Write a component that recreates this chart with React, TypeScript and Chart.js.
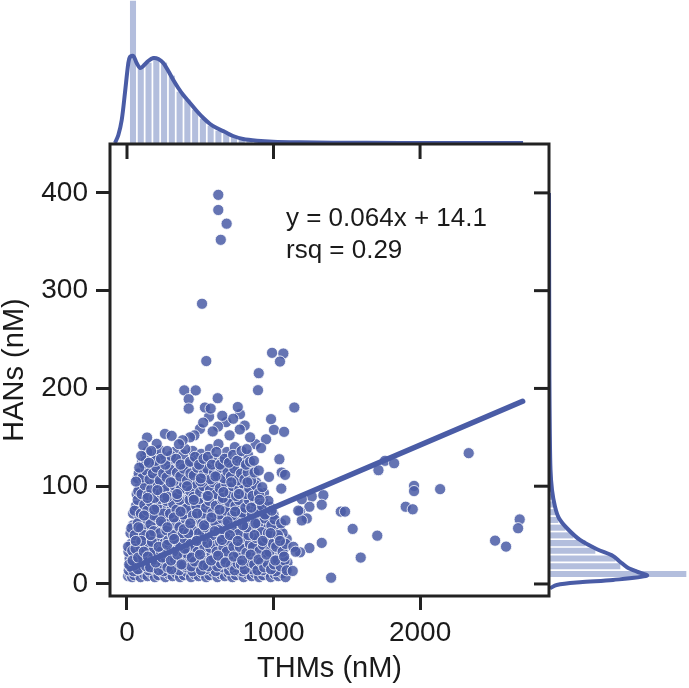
import React, { useEffect, useRef } from "react";
import { Chart, registerables } from "chart.js";

Chart.register(...registerables);

const thmsTicks = [0, 1000, 2000];
const hansTicks = [0, 100, 200, 300, 400];
const fitLine = [
  { x: 20, y: 15.4 },
  { x: 2700, y: 186.9 },
];

const outliers: number[][] = [
  [623, 398], [623, 382.5], [680, 368.5], [640, 352], [512, 286.6], [541, 228], [990, 236.4], [1067, 235.7],
  [1044, 227.5], [899, 215.6], [894, 198.2], [391, 198], [469, 198], [421, 189], [619, 190], [421, 179.4],
  [532, 180.5], [571, 179.4], [756, 181], [1142, 180.5], [2332, 133.8], [1761, 126], [1823, 123.5], [1716, 116.4],
  [1959, 100.3], [1959, 95], [2137, 97], [1902, 79], [1950, 76.4], [2680, 66], [2669, 57], [2512, 44.3],
  [2587, 38.2], [1459, 74], [1488, 74], [1540, 56.3], [1708, 49.4], [1329, 42], [1245, 36.8], [1595, 27],
  [1393, 6.4], [1340, 90.8], [1261, 89.4], [1329, 81], [1245, 79], [1193, 86.7], [1181, 74], [1227, 67],
  [1193, 65], [1181, 32.4], [1169, 75], [1081, 65], [1135, 38], [1151, 33], [1131, 13.3],
];

const cloudEdge: number[][] = [
  [771, 173.7], [983, 168.6], [1003, 157.6], [1072, 155.6], [803, 162], [676, 165.5], [498, 158.6], [621, 161],
  [585, 156], [259, 153.5], [305, 151.5], [137, 149.8], [111, 141.6], [203, 143.3], [61, 104.7], [1040, 127.6],
  [1056, 114], [1079, 111.6], [969, 109.5], [899, 116], [1053, 97.5], [949, 148], [878, 143], [915, 139], [817, 137.9],
  [725, 169], [770, 158], [560, 171], [520, 165], [650, 172], [700, 152], [460, 152], [430, 150], [380, 147],
  [840, 150], [355, 143], [165, 136], [128, 126], [97, 131], [84, 119], [150, 124], [232, 128], [274, 136],
];

const cloudFloor: number[][] = [
  [8, 8], [22, 10], [35, 7], [50, 9], [71, 12], [93, 7], [118, 10], [140, 8], [166, 11], [190, 7], [214, 9], [238, 12],
  [262, 7], [287, 10], [311, 8], [336, 11], [362, 7], [388, 9], [410, 12], [437, 7], [461, 10], [489, 8], [512, 11],
  [540, 7], [563, 9], [589, 12], [617, 7], [640, 10], [668, 8], [693, 11], [719, 7], [744, 9], [772, 12], [796, 7],
  [823, 10], [851, 8], [874, 11], [902, 7], [929, 9], [957, 12], [981, 7], [1008, 10], [1033, 8], [1059, 11], [1082, 7],
];

const cloudLow: number[][] = [
  [12, 14], [30, 17], [45, 13], [66, 21], [82, 15], [101, 19], [124, 25], [147, 14], [163, 22], [182, 16], [205, 27],
  [226, 18], [249, 13], [268, 24], [291, 16], [313, 28], [334, 20], [357, 14], [379, 26], [402, 17], [425, 22], [447, 13],
  [470, 29], [493, 18], [516, 24], [538, 15], [561, 27], [583, 20], [606, 13], [629, 25], [651, 17], [674, 30], [697, 14],
  [720, 23], [742, 17], [765, 28], [788, 13], [810, 21], [833, 26], [856, 15], [879, 29], [901, 19], [924, 14], [947, 25],
  [969, 17], [992, 28], [1015, 13], [1037, 21], [1060, 27], [1083, 16], [1095, 22], [18, 26], [55, 28], [92, 30],
];

const cloudMidLow: number[][] = [
  [10, 33], [28, 41], [48, 31], [70, 46], [88, 36], [112, 42], [135, 33], [156, 49], [178, 38], [199, 31], [222, 44],
  [245, 36], [267, 48], [288, 33], [310, 42], [333, 37], [354, 49], [377, 32], [399, 43], [421, 36], [444, 47], [466, 33],
  [489, 40], [511, 49], [534, 35], [556, 44], [578, 31], [601, 46], [623, 38], [646, 33], [668, 48], [690, 41], [713, 35],
  [735, 46], [758, 31], [781, 42], [803, 37], [826, 49], [848, 34], [871, 44], [893, 38], [916, 48], [938, 32], [961, 43],
  [984, 37], [1006, 47], [1029, 33], [1051, 42], [1074, 37], [1090, 46],
];

const cloudMid: number[][] = [
  [24, 52], [41, 60], [62, 55], [84, 66], [105, 51], [127, 61], [149, 56], [171, 67], [192, 52], [214, 62], [236, 57],
  [258, 65], [280, 51], [302, 60], [324, 55], [347, 67], [368, 53], [391, 63], [412, 57], [435, 66], [457, 51], [480, 61],
  [502, 56], [525, 68], [547, 53], [569, 62], [592, 57], [614, 66], [636, 52], [659, 60], [681, 55], [704, 67], [726, 51],
  [749, 62], [771, 57], [794, 65], [816, 53], [839, 60], [861, 56], [884, 68], [906, 51], [929, 62], [951, 57], [974, 65],
  [996, 53], [1019, 60], [1041, 55], [1062, 52],
];

const cloudMidHigh: number[][] = [
  [42, 72], [62, 80], [84, 70], [105, 77], [128, 84], [150, 71], [172, 79], [194, 69], [216, 83], [238, 74], [260, 80],
  [282, 70], [305, 77], [327, 85], [349, 72], [371, 79], [394, 69], [416, 83], [438, 75], [461, 81], [483, 70], [505, 78],
  [528, 84], [550, 72], [572, 79], [595, 69], [617, 83], [639, 74], [662, 81], [684, 71], [707, 77], [729, 85], [751, 72],
  [774, 79], [796, 69], [819, 83], [841, 74], [863, 80], [886, 71], [908, 78], [931, 84], [953, 72], [976, 79], [1000, 71],
];

const cloudUpper: number[][] = [
  [66, 92], [88, 99], [110, 88], [132, 96], [154, 101], [176, 90], [198, 97], [220, 87], [243, 100], [265, 92], [287, 98],
  [309, 88], [332, 95], [354, 102], [376, 90], [399, 97], [421, 87], [443, 100], [466, 92], [488, 98], [510, 88], [533, 95],
  [555, 102], [577, 90], [600, 97], [622, 87], [644, 100], [667, 92], [689, 98], [711, 88], [734, 95], [756, 102], [778, 90],
  [801, 97], [823, 87], [845, 100], [868, 92], [890, 98], [912, 88], [935, 93],
];

const cloudTop: number[][] = [
  [72, 108], [96, 115], [118, 106], [142, 112], [166, 118], [188, 105], [212, 113], [236, 108], [258, 117], [283, 104],
  [306, 112], [330, 118], [352, 106], [375, 114], [398, 109], [421, 118], [444, 104], [467, 113], [490, 107], [514, 117],
  [536, 105], [559, 112], [583, 118], [606, 108], [629, 115], [651, 104], [675, 112], [698, 118], [721, 107], [744, 114],
  [767, 105], [790, 112], [812, 118], [836, 107], [858, 111], [881, 104],
  [102, 124], [126, 132], [150, 127], [182, 134], [210, 122], [246, 130], [284, 124], [322, 135], [348, 126], [384, 132],
  [412, 122], [448, 136], [478, 127], [506, 133], [538, 123], [566, 138], [596, 128], [624, 143], [648, 125], [682, 135],
  [710, 122], [736, 140], [768, 128], [798, 124], [826, 132], [852, 120],
];

const cloudExtra: number[][] = [
  [15, 20], [38, 24], [58, 36], [76, 27], [98, 44], [115, 33], [142, 28], [170, 43], [196, 22], [216, 38], [240, 27],
  [274, 40], [300, 24], [322, 46], [344, 30], [372, 20], [394, 36], [418, 52], [442, 27], [476, 44], [498, 30], [522, 19],
  [548, 42], [574, 24], [598, 54], [622, 29], [648, 45], [672, 22], [702, 50], [728, 28], [756, 44], [786, 24], [816, 58],
  [844, 30], [870, 50], [898, 25], [926, 44], [952, 30], [980, 52], [1012, 24], [1044, 44], [1072, 28], [78, 58], [116, 70],
  [140, 88], [162, 50], [186, 76], [208, 96], [232, 64], [256, 88], [276, 58], [298, 104], [320, 68], [342, 92], [366, 74],
  [388, 56], [410, 100], [432, 62], [456, 86], [478, 72], [504, 108], [526, 60], [552, 90], [576, 68], [604, 110], [632, 76],
  [658, 94], [686, 64], [712, 104], [738, 74], [764, 92], [792, 60], [822, 104], [848, 78], [876, 62], [905, 86], [60, 44],
];

const cloudFillLow: number[][] = [
  [20, 18], [47, 19], [74, 15], [103, 26], [131, 18], [158, 17], [187, 25], [217, 14], [243, 21], [276, 17], [303, 15],
  [328, 25], [352, 22], [385, 19], [414, 27], [439, 18], [462, 23], [505, 14], [532, 21], [553, 18], [594, 26], [616, 18],
  [641, 21], [665, 25], [709, 19], [734, 14], [755, 21], [778, 20], [803, 15], [845, 22], [868, 20], [890, 14], [915, 22],
  [936, 17], [960, 21], [983, 15], [1004, 20], [1026, 25], [1049, 18], [1075, 24], [1090, 14],
  [8, 38], [36, 34], [62, 42], [94, 37], [124, 47], [146, 39], [172, 33], [208, 46], [232, 33], [256, 42], [282, 45],
  [316, 33], [338, 44], [364, 38], [386, 47], [410, 31], [434, 41], [458, 38], [482, 33], [505, 43], [528, 38], [568, 37],
  [590, 41], [612, 33], [636, 43], [658, 37], [680, 33], [702, 44], [726, 38], [770, 38], [792, 47], [815, 32], [838, 41],
  [860, 38], [882, 47], [905, 34], [928, 40], [950, 47], [972, 33], [995, 41], [1018, 38], [1040, 47], [1062, 33], [1083, 41],
];

const cloudFillMid: number[][] = [
  [30, 57], [52, 50], [73, 62], [96, 57], [116, 50], [138, 66], [160, 61], [182, 54], [204, 68], [225, 52], [248, 62],
  [269, 55], [291, 65], [313, 50], [336, 62], [358, 58], [380, 52], [402, 66], [424, 60], [446, 55], [468, 67], [491, 52],
  [514, 62], [536, 58], [558, 66], [581, 50], [603, 63], [625, 55], [648, 67], [670, 51], [692, 62], [715, 57], [738, 66],
  [760, 51], [782, 62], [805, 59], [828, 50], [850, 66], [873, 58], [895, 62], [918, 53], [940, 67], [962, 52], [985, 60],
  [1007, 66], [1030, 50], [1052, 62],
  [52, 75], [73, 86], [95, 72], [118, 81], [138, 75], [161, 84], [183, 70], [205, 78], [227, 87], [249, 72], [271, 85],
  [294, 72], [316, 82], [338, 76], [360, 86], [383, 71], [405, 77], [427, 86], [450, 70], [472, 80], [494, 87], [516, 72],
  [539, 78], [561, 85], [584, 73], [606, 80], [628, 71], [651, 86], [673, 75], [696, 84], [718, 70], [740, 80], [763, 86],
  [785, 73], [807, 78], [830, 86], [852, 71], [874, 84], [897, 75], [920, 80], [942, 71], [965, 85], [988, 75],
];

const cloudFillHigh: number[][] = [
  [77, 95], [99, 92], [121, 101], [143, 91], [165, 97], [187, 88], [209, 103], [231, 93], [254, 97], [276, 89], [320, 101],
  [343, 89], [365, 97], [388, 103], [432, 95], [454, 89], [477, 102], [499, 94], [521, 100], [544, 90], [566, 96], [588, 104],
  [611, 92], [633, 98], [655, 88], [678, 102], [700, 93], [722, 100], [745, 90], [767, 97], [790, 103], [812, 92], [834, 98],
  [857, 90], [879, 101], [901, 93], [923, 99],
  [80, 113], [107, 109], [130, 116], [154, 107], [177, 113], [200, 119], [224, 106], [247, 113], [270, 109], [294, 117],
  [318, 105], [341, 114], [364, 110], [387, 118], [410, 106], [433, 113], [456, 111], [479, 119], [502, 105], [525, 113],
  [548, 118], [571, 107], [594, 114], [617, 111], [640, 119], [663, 108], [686, 115], [709, 110], [732, 118], [755, 106],
  [778, 113], [801, 107], [824, 114], [847, 106], [870, 114],
  [115, 123], [138, 135], [194, 126], [222, 137], [262, 122], [300, 131], [335, 128], [366, 122], [398, 138], [430, 125],
  [464, 130], [492, 122], [522, 128], [552, 130], [580, 122], [610, 135], [636, 122], [666, 128], [696, 124], [724, 132],
  [752, 126], [782, 136], [812, 122], [840, 125], [866, 126],
];

const histCenters = [
  41, 94, 147, 200, 253, 306, 359, 412, 465, 518, 571, 624, 677, 730, 783, 836, 889, 942, 995, 1048, 1101,
];
const histCounts = [142, 75, 80, 84, 80, 67, 51, 43, 33, 24, 17, 12, 9, 6.5, 4.5, 3, 2.2, 1.6, 1.2, 0.9, 0.6];

const kdeThms = [
  -82, -59, -36, -14, 9, 20, 43, 66, 89, 111, 145, 180, 214, 248, 282, 316, 350, 384, 430, 476, 521, 567, 612, 669, 724,
  792, 887, 997, 1181, 1406, 1864, 2703,
];
const kdeThmsDensity = [
  0, 8, 23, 50, 80, 86, 87, 80, 75, 77, 82, 85, 84, 80, 72, 63, 55, 48, 40, 32, 25, 19, 15, 11, 7, 4, 2.3, 1.3, 0.7, 0.3,
  0.1, 0,
];

const histHansCenters = [10.2, 18.1, 26, 33.9, 41.8, 49.7, 57.6, 65.5, 73.4, 81.3, 89.2, 97.1, 105];
const histHansCounts = [137, 71, 66, 46, 36, 24, 16, 9, 7, 6, 3, 2, 1];

const kdeHans = [
  -4.4, -1, 1.7, 4.1, 8.5, 12.6, 17.1, 22.8, 28.7, 35.5, 45, 57, 67.2, 79.1, 96.2, 116.7, 157, 209, 290, 400,
];
const kdeHansDensity = [1, 7.7, 31, 64, 98, 88, 78, 71, 64, 48, 31, 18, 10, 6, 3, 1.5, 0.8, 0.4, 0.2, 0];

const annotationLines = ["y = 0.064x + 14.1", "rsq = 0.29"];

const FONT = "'Liberation Sans', Arial, sans-serif";
const INK = "#222222";
const TEXT = "#1a1a1a";
const BLUE = "#4a5ca6";
const PALE = "#b3bedd";

const toPoints = (rows: number[][]) => rows.map(([x, y]) => ({ x, y }));

export default function App() {
  const mainRef = useRef<HTMLCanvasElement>(null);
  const topRef = useRef<HTMLCanvasElement>(null);
  const rightRef = useRef<HTMLCanvasElement>(null);

  useEffect(() => {
    const frame = {
      id: "frame",
      afterDatasetsDraw(chart: any) {
        const { ctx, chartArea: a, scales } = chart;
        ctx.save();
        ctx.strokeStyle = INK;
        ctx.lineWidth = 3;
        ctx.strokeRect(a.left, a.top, a.right - a.left, a.bottom - a.top);
        thmsTicks.forEach((v) => {
          const p = scales.x.getPixelForValue(v);
          ctx.beginPath();
          ctx.moveTo(p, a.top);
          ctx.lineTo(p, a.top + 15);
          ctx.stroke();
        });
        hansTicks.forEach((v) => {
          const p = scales.y.getPixelForValue(v);
          ctx.beginPath();
          ctx.moveTo(a.right, p);
          ctx.lineTo(a.right - 15, p);
          ctx.stroke();
        });
        ctx.fillStyle = TEXT;
        ctx.font = `26px ${FONT}`;
        ctx.textBaseline = "alphabetic";
        ctx.textAlign = "left";
        const tx = scales.x.getPixelForValue(1085);
        annotationLines.forEach((t, i) => {
          ctx.fillText(t, tx, scales.y.getPixelForValue(i === 0 ? 366 : 333.5));
        });
        ctx.restore();
      },
    };

    const scatterStyle = {
      type: "scatter" as const,
      backgroundColor: "rgba(74,92,166,0.85)",
      borderColor: "rgba(255,255,255,0.8)",
      borderWidth: 1,
      pointRadius: 5.6,
    };

    const main = new Chart(mainRef.current!, {
      type: "scatter",
      plugins: [frame],
      data: {
        datasets: [
          {
            type: "line" as const,
            label: "fit",
            data: fitLine,
            borderColor: BLUE,
            borderWidth: 5.5,
            pointRadius: 0,
            borderCapStyle: "round",
          },
          { ...scatterStyle, label: "outliers", data: toPoints(outliers) },
          { ...scatterStyle, label: "edge", data: toPoints(cloudEdge) },
          { ...scatterStyle, label: "extra", data: toPoints(cloudExtra) },
          { ...scatterStyle, label: "fillHigh", data: toPoints(cloudFillHigh) },
          { ...scatterStyle, label: "fillMid", data: toPoints(cloudFillMid) },
          { ...scatterStyle, label: "fillLow", data: toPoints(cloudFillLow) },
          { ...scatterStyle, label: "top", data: toPoints(cloudTop) },
          { ...scatterStyle, label: "upper", data: toPoints(cloudUpper) },
          { ...scatterStyle, label: "midhigh", data: toPoints(cloudMidHigh) },
          { ...scatterStyle, label: "mid", data: toPoints(cloudMid) },
          { ...scatterStyle, label: "midlow", data: toPoints(cloudMidLow) },
          { ...scatterStyle, label: "low", data: toPoints(cloudLow) },
          { ...scatterStyle, label: "floor", data: toPoints(cloudFloor) },
        ] as any,
      },
      options: {
        responsive: false,
        animation: false,
        layout: { padding: { top: 144, right: 140, left: 0, bottom: 0 } },
        plugins: { legend: { display: false }, tooltip: { enabled: false } },
        scales: {
          x: {
            type: "linear",
            min: -116,
            max: 2880,
            afterBuildTicks: (s: any) => {
              s.ticks = thmsTicks.map((value) => ({ value }));
            },
            afterFit: (s: any) => {
              s.height = 92;
            },
            grid: { drawOnChartArea: false, tickLength: 14, tickWidth: 3, tickColor: INK },
            border: { display: false },
            ticks: {
              autoSkip: false,
              maxRotation: 0,
              padding: 6,
              color: TEXT,
              font: { family: FONT, size: 28 },
              callback: (v: any) => String(v),
            },
            title: {
              display: true,
              text: "THMs (nM)",
              color: TEXT,
              font: { family: FONT, size: 29, lineHeight: 1 },
              padding: { top: 0, bottom: 5 },
            },
          },
          y: {
            type: "linear",
            min: -12.3,
            max: 450,
            afterBuildTicks: (s: any) => {
              s.ticks = hansTicks.map((value) => ({ value }));
            },
            afterFit: (s: any) => {
              s.width = 110;
            },
            grid: { drawOnChartArea: false, tickLength: 14, tickWidth: 3, tickColor: INK },
            border: { display: false },
            ticks: {
              autoSkip: false,
              padding: 8,
              color: TEXT,
              font: { family: FONT, size: 28 },
              callback: (v: any) => String(v),
            },
            title: {
              display: true,
              text: "HANs (nM)",
              color: TEXT,
              font: { family: FONT, size: 29, lineHeight: 1 },
              padding: { top: 0, bottom: 0 },
            },
          },
        },
      } as any,
    });

    const hiddenLinear = (min: number, max: number) => ({
      type: "linear" as const,
      display: false,
      offset: false,
      min,
      max,
    });

    const top = new Chart(topRef.current!, {
      type: "bar",
      data: {
        datasets: [
          {
            type: "bar" as const,
            data: histCenters.map((x, i) => ({ x, y: histCounts[i] })),
            backgroundColor: PALE,
            barThickness: 5.4,
            order: 2,
          },
          {
            type: "line" as const,
            data: kdeThms.map((x, i) => ({ x, y: kdeThmsDensity[i] })),
            borderColor: BLUE,
            borderWidth: 4,
            pointRadius: 0,
            tension: 0.3,
            clip: false,
            order: 1,
          },
        ] as any,
      },
      options: {
        responsive: false,
        animation: false,
        plugins: { legend: { display: false }, tooltip: { enabled: false } },
        scales: { x: hiddenLinear(-116, 2880), y: hiddenLinear(0, 143) },
      } as any,
    });

    const right = new Chart(rightRef.current!, {
      type: "bar",
      data: {
        datasets: [
          {
            type: "bar" as const,
            data: histHansCenters.map((y, i) => ({ x: histHansCounts[i], y })),
            backgroundColor: PALE,
            barThickness: 5.4,
            order: 2,
          },
          {
            type: "line" as const,
            indexAxis: "y",
            data: kdeHans.map((y, i) => ({ x: kdeHansDensity[i], y })),
            borderColor: BLUE,
            borderWidth: 4,
            pointRadius: 0,
            tension: 0.3,
            clip: false,
            order: 1,
          },
        ] as any,
      },
      options: {
        responsive: false,
        animation: false,
        indexAxis: "y",
        plugins: { legend: { display: false }, tooltip: { enabled: false } },
        scales: { x: hiddenLinear(0, 140), y: hiddenLinear(-12.3, 450) },
      } as any,
    });

    return () => {
      main.destroy();
      top.destroy();
      right.destroy();
    };
  }, []);

  const place = (left: number, topPx: number): React.CSSProperties => ({
    position: "absolute",
    left,
    top: topPx,
    display: "block",
  });

  return (
    <div style={{ position: "absolute", left: 0, top: 0, width: 689, height: 688, background: "#fff", overflow: "hidden" }}>
      <canvas ref={topRef} width={439} height={143} style={place(110, 0)} />
      <canvas ref={rightRef} width={140} height={452} style={place(549, 144)} />
      <canvas ref={mainRef} width={689} height={688} style={place(0, 0)} />
    </div>
  );
}
